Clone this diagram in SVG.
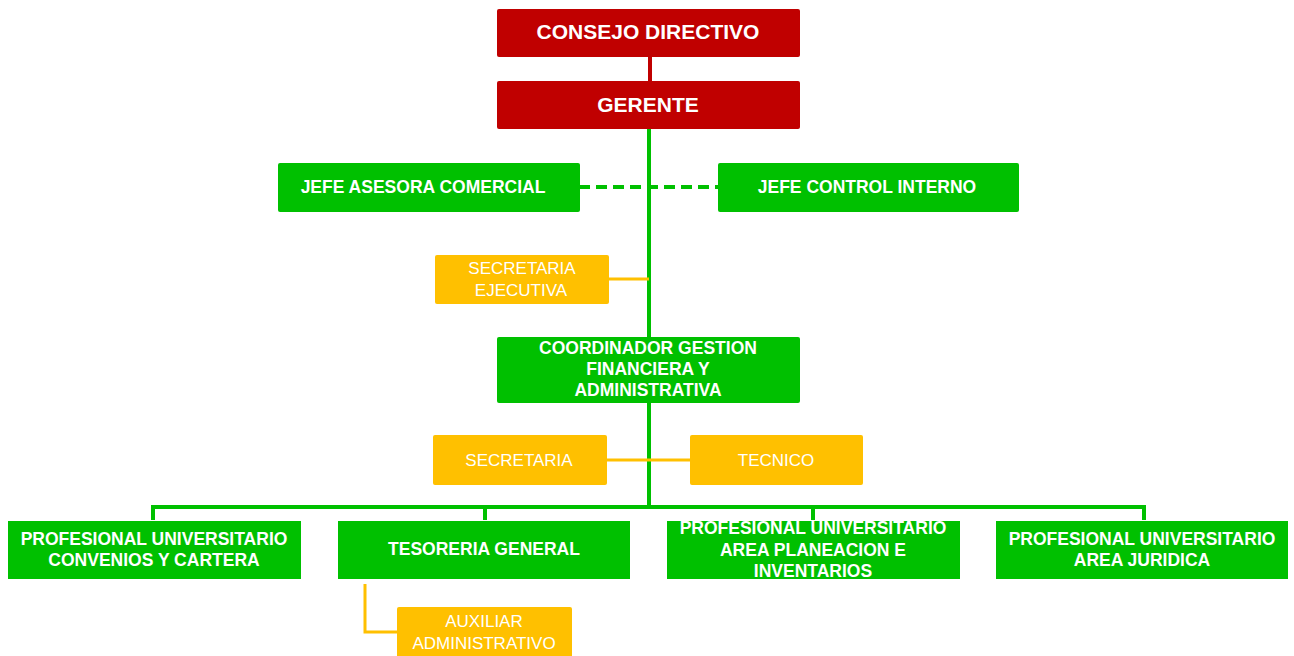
<svg xmlns="http://www.w3.org/2000/svg" width="1294" height="656" viewBox="0 0 1294 656">
<style>
.red{fill:#C00000}
.grn{fill:#00C000}
.org{fill:#FFC000}
text{font-family:"Liberation Sans",Arial,sans-serif;fill:#fff;text-anchor:middle;dominant-baseline:central}
.b{font-weight:bold;font-size:17.5px}
.big{font-weight:bold;font-size:21px}
.n{font-size:17px}
.gl{stroke:#00C000;stroke-width:4;fill:none}
.ol{stroke:#FFC000;stroke-width:3;fill:none}
</style>
<rect width="1294" height="656" fill="#fff"/>
<g id="connectors">
<line x1="650" y1="57" x2="650" y2="81" stroke="#C00000" stroke-width="4"/>
<line class="gl" x1="649" y1="129" x2="649" y2="507"/>
<line class="gl" x1="579" y1="187" x2="718" y2="187" stroke-dasharray="11,6"/>
<line class="ol" x1="609" y1="279" x2="649" y2="279"/>
<line class="ol" x1="607" y1="460" x2="690" y2="460"/>
<polyline class="gl" points="153,520 153,507 1144,507 1144,520"/>
<line class="gl" x1="485" y1="507" x2="485" y2="520"/>
<line class="gl" x1="813" y1="507" x2="813" y2="520"/>
<polyline class="ol" points="365,584 365,632 397,632"/>
</g>
<g id="consejo"><rect class="red" x="497" y="9" width="303" height="48" rx="2"/><text class="big" x="648" y="31">CONSEJO DIRECTIVO</text></g>
<g id="gerente"><rect class="red" x="497" y="81" width="303" height="48" rx="2"/><text class="big" x="648" y="104">GERENTE</text></g>
<g id="asesora"><rect class="grn" x="278" y="163" width="302" height="49" rx="2"/><text class="b" x="423" y="187">JEFE ASESORA COMERCIAL</text></g>
<g id="control"><rect class="grn" x="718" y="163" width="301" height="49" rx="2"/><text class="b" x="867" y="187">JEFE CONTROL INTERNO</text></g>
<g id="secejec"><rect class="org" x="435" y="255" width="174" height="49" rx="2"/><text class="n" x="522" y="268">SECRETARIA</text><text class="n" x="521" y="290">EJECUTIVA</text></g>
<g id="coord"><rect class="grn" x="497" y="337" width="303" height="66" rx="2"/><text class="b" x="648" y="348">COORDINADOR GESTION</text><text class="b" x="648" y="369">FINANCIERA Y</text><text class="b" x="648" y="390">ADMINISTRATIVA</text></g>
<g id="secretaria"><rect class="org" x="433" y="435" width="174" height="50" rx="2"/><text class="n" x="519" y="460">SECRETARIA</text></g>
<g id="tecnico"><rect class="org" x="690" y="435" width="173" height="50" rx="2"/><text class="n" x="776" y="460">TECNICO</text></g>
<g id="convenios"><rect class="grn" x="8" y="521" width="293" height="58"/><text class="b" x="154" y="539">PROFESIONAL UNIVERSITARIO</text><text class="b" x="154" y="560">CONVENIOS Y CARTERA</text></g>
<g id="tesoreria"><rect class="grn" x="338" y="521" width="292" height="58"/><text class="b" x="484" y="549">TESORERIA GENERAL</text></g>
<g id="planeacion"><rect class="grn" x="667" y="521" width="293" height="58"/><text class="b" x="813" y="528">PROFESIONAL UNIVERSITARIO</text><text class="b" x="813" y="550">AREA PLANEACION E</text><text class="b" x="813" y="571">INVENTARIOS</text></g>
<g id="juridica"><rect class="grn" x="996" y="521" width="292" height="58"/><text class="b" x="1142" y="539">PROFESIONAL UNIVERSITARIO</text><text class="b" x="1142" y="560">AREA JURIDICA</text></g>
<g id="auxiliar"><rect class="org" x="397" y="607" width="175" height="55" rx="2"/><text class="n" x="484" y="621">AUXILIAR</text><text class="n" x="484" y="643">ADMINISTRATIVO</text></g>
</svg>
